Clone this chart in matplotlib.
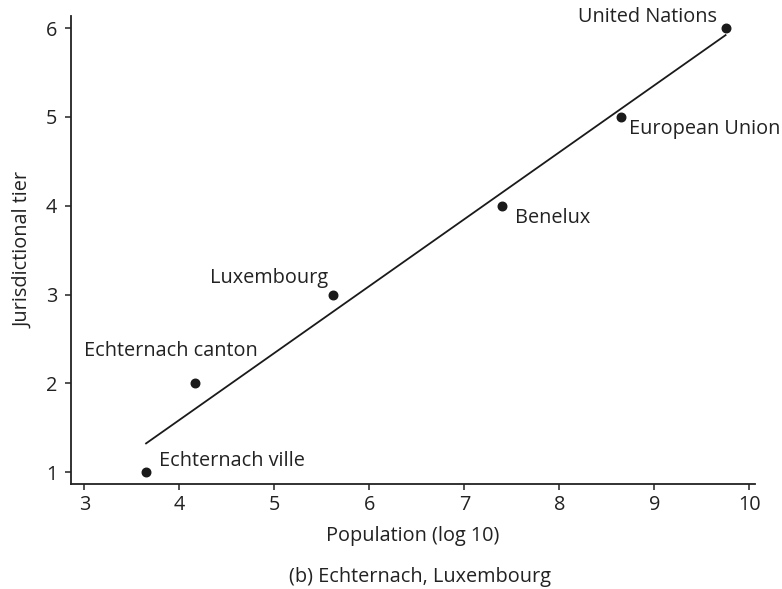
import numpy as np
import matplotlib
matplotlib.use("Agg")
import matplotlib.pyplot as plt

plt.rcParams['font.family'] = ['Open Sans', 'DejaVu Sans']

# population (log 10) and jurisdictional tier for each level
names = ["Echternach ville", "Echternach canton", "Luxembourg",
         "Benelux", "European Union", "United Nations"]
pop_log = [3.65, 4.16, 5.62, 7.40, 8.65, 9.75]
tier = [1, 2, 3, 4, 5, 6]

x_ticks = [3, 4, 5, 6, 7, 8, 9, 10]
y_ticks = [1, 2, 3, 4, 5, 6]

# label offsets in points (dx, dy, ha)
label_pos = {
    "Echternach ville": (9, 8, 'left'),
    "Echternach canton": (-17, 23, 'center'),
    "Luxembourg": (-4, 12, 'right'),
    "Benelux": (9, -9, 'left'),
    "European Union": (6, -9, 'left'),
    "United Nations": (-6, 8, 'right'),
}

FS = 14.3

fig = plt.figure(figsize=(7.82, 5.89), dpi=100)
ax = fig.add_axes([0.0908, 0.178, 0.8747, 0.7948])

ax.scatter(pop_log, tier, s=38, color='#1a1a1a', zorder=3)

# least-squares fit line
slope, intercept = np.polyfit(pop_log, tier, 1)
xs = np.array([min(pop_log), max(pop_log)])
ax.plot(xs, slope * xs + intercept, color='#1a1a1a', lw=1.3)

for n, x, y in zip(names, pop_log, tier):
    dx, dy, ha = label_pos[n]
    ax.annotate(n, (x, y), xytext=(dx, dy), textcoords='offset points',
                ha=ha, va='center', fontsize=FS, color='#222222')

ax.set_xlim(2.86, 10.06)
ax.set_ylim(0.865, 6.135)
ax.set_xticks(x_ticks)
ax.set_yticks(y_ticks)
ax.tick_params(labelsize=FS, length=4, width=1.1, colors='#222222', pad=4)
ax.tick_params(axis='y', pad=6)
for s in ['top', 'right']:
    ax.spines[s].set_visible(False)
for s in ['left', 'bottom']:
    ax.spines[s].set_linewidth(1.3)
    ax.spines[s].set_color('#222222')

ax.set_xlabel("Population (log 10)", fontsize=FS, color='#222222', labelpad=8)
ax.set_ylabel("Jurisdictional tier", fontsize=FS, color='#222222', labelpad=9)
fig.text(0.537, 0.004, "(b) Echternach, Luxembourg", ha='center', va='bottom',
         fontsize=FS, color='#222222')

fig.savefig("out.png", dpi=100)
